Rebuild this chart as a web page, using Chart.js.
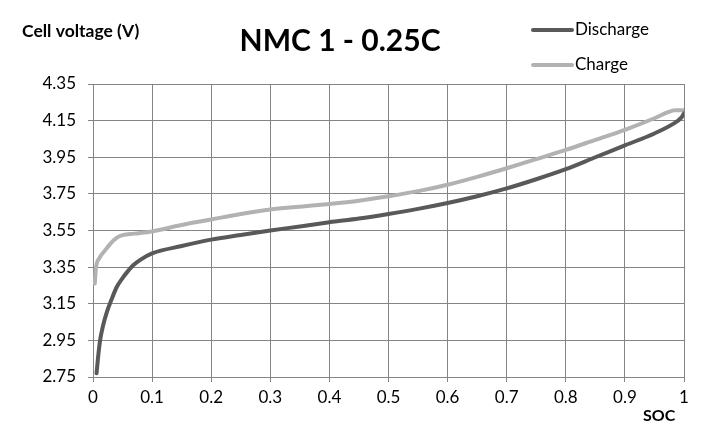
<!DOCTYPE html>
<html>
<head>
<meta charset="utf-8">
<script src="https://cdn.jsdelivr.net/npm/chart.js@4/dist/chart.umd.min.js"></script>
<style>
  html, body { margin: 0; padding: 0; background: #fff; }
  #wrap { width: 722px; height: 444px; }
</style>
</head>
<body>
<div id="wrap"><canvas id="socChart" width="722" height="444"></canvas></div>
<script>
const socDischarge = [0.006, 0.009, 0.012, 0.017, 0.023, 0.031, 0.04, 0.05, 0.057, 0.068, 0.08, 0.1,
  0.15, 0.2, 0.25, 0.3, 0.35, 0.4, 0.45, 0.5, 0.55, 0.6, 0.65, 0.7, 0.75, 0.8, 0.85, 0.9, 0.95, 0.983, 0.995, 1.0];
const voltDischarge = [2.77, 2.87, 2.95, 3.03, 3.10, 3.17, 3.24, 3.29, 3.32, 3.36, 3.39, 3.425,
  3.465, 3.50, 3.525, 3.55, 3.572, 3.595, 3.615, 3.64, 3.668, 3.70, 3.737, 3.78, 3.83, 3.885, 3.95, 4.015, 4.08, 4.135, 4.165, 4.19];

const socCharge = [0.003, 0.005, 0.011, 0.02, 0.03, 0.04, 0.05, 0.07, 0.1, 0.15, 0.2, 0.25, 0.3, 0.35,
  0.4, 0.45, 0.5, 0.55, 0.6, 0.65, 0.7, 0.75, 0.8, 0.85, 0.9, 0.95, 0.972, 0.985, 1.0];
const voltCharge = [3.26, 3.345, 3.40, 3.44, 3.48, 3.51, 3.525, 3.533, 3.545, 3.58, 3.61, 3.64, 3.665, 3.68,
  3.695, 3.713, 3.737, 3.765, 3.80, 3.843, 3.89, 3.94, 3.99, 4.045, 4.10, 4.163, 4.195, 4.207, 4.207];

const seriesNames = ["Discharge", "Charge"];
const seriesColors = ["#595959", "#b2b2b2"];
const yMin = 2.75, yMax = 4.35, yStep = 0.2;

const FONT = "Lato, 'Open Sans', sans-serif";
const gridColor = "#858585";

function toPoints(xs, ys) {
  return xs.map((x, i) => ({ x: x, y: ys[i] }));
}

// title, axis captions and legend drawn on the canvas
const captions = {
  id: "captions",
  afterDraw(chart) {
    const ctx = chart.ctx;
    ctx.save();
    ctx.fillStyle = "#000";
    ctx.textBaseline = "alphabetic";

    ctx.font = "bold 30px " + FONT;
    ctx.textAlign = "center";
    ctx.fillText("NMC 1 - 0.25C", 340, 51);

    ctx.font = "bold 17.5px " + FONT;
    ctx.textAlign = "left";
    ctx.fillText("Cell voltage (V)", 22, 37);

    ctx.font = "bold 16px " + FONT;
    ctx.fillText("SOC", 643, 421);

    // legend
    ctx.font = "17px " + FONT;
    const rows = [29, 64];
    seriesNames.forEach((name, i) => {
      ctx.strokeStyle = seriesColors[i];
      ctx.lineWidth = 4;
      ctx.lineCap = "round";
      ctx.beginPath();
      ctx.moveTo(533, rows[i] + 1);
      ctx.lineTo(572, rows[i] + 1);
      ctx.stroke();
      ctx.fillStyle = "#000";
      ctx.fillText(name, 575, rows[i] + 6);
    });
    ctx.restore();
  }
};

new Chart(document.getElementById("socChart").getContext("2d"), {
  type: "line",
  data: {
    datasets: [
      {
        label: seriesNames[0],
        data: toPoints(socDischarge, voltDischarge),
        borderColor: seriesColors[0],
        borderWidth: 4,
        borderCapStyle: "round",
        borderJoinStyle: "round",
        pointRadius: 0,
        cubicInterpolationMode: "monotone",
      },
      {
        label: seriesNames[1],
        data: toPoints(socCharge, voltCharge),
        borderColor: seriesColors[1],
        borderWidth: 4,
        borderCapStyle: "round",
        borderJoinStyle: "round",
        pointRadius: 0,
        cubicInterpolationMode: "monotone",
      },
    ],
  },
  options: {
    responsive: false,
    animation: false,
    layout: { padding: { left: 0, top: 84, right: 38, bottom: 0 } },
    plugins: {
      legend: { display: false },
      title: { display: false },
      tooltip: { enabled: false },
    },
    scales: {
      x: {
        type: "linear",
        min: 0,
        max: 1,
        afterFit(scale) { scale.height = 67; },
        ticks: {
          stepSize: 0.1,
          padding: 5,
          color: "#000",
          font: { family: FONT, size: 17 },
          callback: (v) => (Math.abs(v - 1) < 1e-9 ? "1" : Math.abs(v) < 1e-9 ? "0" : v.toFixed(1)),
        },
        grid: { color: gridColor, lineWidth: 1, tickLength: 5 },
        border: { color: gridColor },
      },
      y: {
        min: yMin,
        max: yMax,
        afterFit(scale) { scale.width = 93; },
        ticks: {
          stepSize: yStep,
          padding: 12,
          color: "#000",
          font: { family: FONT, size: 17 },
          callback: (v) => v.toFixed(2),
        },
        grid: { color: gridColor, lineWidth: 1, tickLength: 5 },
        border: { color: gridColor },
      },
    },
  },
  plugins: [captions],
});
</script>
</body>
</html>
